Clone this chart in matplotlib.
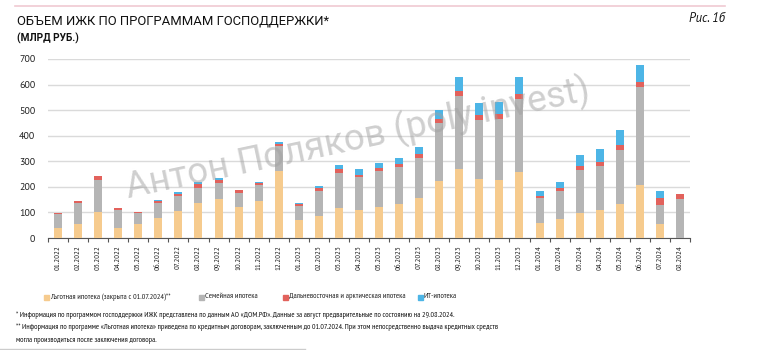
import matplotlib
matplotlib.use("Agg")
import matplotlib.pyplot as plt
from matplotlib.lines import Line2D
from matplotlib.patches import Rectangle
import numpy as np

months = [
    "01.2022", "02.2022", "03.2022", "04.2022", "05.2022", "06.2022", "07.2022", "08.2022",
    "09.2022", "10.2022", "11.2022", "12.2022", "01.2023", "02.2023", "03.2023", "04.2023",
    "05.2023", "06.2023", "07.2023", "08.2023", "09.2023", "10.2023", "11.2023", "12.2023",
    "01.2024", "02.2024", "03.2024", "04.2024", "05.2024", "06.2024", "07.2024", "08.2024",
]
lgotnaya = [39, 54, 100, 39, 54, 78, 107, 136, 153, 121, 145, 262, 69, 86, 116, 108,
            123, 134, 157, 222, 270, 230, 227, 258, 59, 73, 98, 111, 132, 209, 55, 0]
semeynaya = [54, 83, 126, 71, 44, 58, 56, 61, 64, 55, 61, 97, 56, 98, 140, 130,
             139, 143, 156, 228, 286, 233, 240, 284, 98, 111, 168, 170, 211, 382, 74, 154]
dalnevost = [6, 8, 17, 9, 5, 9, 9, 13, 11, 11, 11, 9, 7, 11, 12, 10,
             13, 13, 15, 16, 18, 17, 17, 23, 7, 11, 16, 18, 19, 19, 26, 20]
it_ipoteka = [0, 0, 0, 0, 0, 5, 7, 8, 7, 2, 2, 7, 4, 10, 19, 22,
              20, 23, 26, 34, 54, 46, 49, 63, 20, 23, 44, 51, 60, 66, 29, 0]

series = [
    ("Льготная ипотека (закрыта с 01.07.2024)**", lgotnaya, "#F6CB8E"),
    ("Семейная ипотека", semeynaya, "#B5B5B5"),
    ("Дальневосточная и арктическая ипотека", dalnevost, "#E2625C"),
    ("ИТ-ипотека", it_ipoteka, "#4DB5E6"),
]

NARROW = ["PT Sans Narrow", "DejaVu Sans"]
REGULAR = ["PT Sans", "DejaVu Sans"]
plt.rcParams["font.family"] = NARROW

W, H = 758, 350
fig = plt.figure(figsize=(W / 100, H / 100), dpi=100)
ax = fig.add_axes([48 / W, 1 - 238 / H, (690 - 48) / W, (238 - 59) / H])

x = np.arange(len(months))
bottom = np.zeros(len(months))
for name, values, color in series:
    ax.bar(x, values, width=0.4, bottom=bottom, color=color, label=name, zorder=3)
    bottom += np.array(values)

ax.set_xlim(-0.5, len(months) - 0.5)
ax.set_ylim(0, 700)
ax.set_yticks(range(0, 701, 100))
ax.grid(axis="y", color="#DADADA", linewidth=1.0, zorder=0)
for side in ("top", "right", "left"):
    ax.spines[side].set_visible(False)
ax.spines["bottom"].set_color("#555555")
ax.spines["bottom"].set_linewidth(0.8)
ax.tick_params(axis="y", length=0, pad=9, labelsize=7.2, labelcolor="#222222")
for lbl in ax.get_yticklabels():
    lbl.set_family(REGULAR)
ax.set_xticks(x)
ax.set_xticklabels(months, rotation=90, fontsize=6.1, color="#222222")
ax.tick_params(axis="x", which="major", length=0, pad=5)
ax.set_xticks(np.arange(-0.5, len(months)), minor=True)
ax.tick_params(axis="x", which="minor", length=3, color="#555555", width=0.8)

# watermark
fig.text(358 / W, 1 - 139 / H, "Антон Поляков (poly invest)", fontsize=26.5,
         family=["Roboto", "DejaVu Sans"], color="#A0A0A0", alpha=0.5,
         rotation=12, ha="center", va="center")

# header
fig.add_artist(Line2D([15 / W, 725 / W], [1 - 6 / H] * 2, color="#F0CAD2", linewidth=1.2))
fig.text(17 / W, 1 - 21 / H, "ОБЪЕМ ИЖК ПО ПРОГРАММАМ ГОСПОДДЕРЖКИ*", fontsize=9.4,
         family=["Roboto", "DejaVu Sans"], color="#111111", va="center")
fig.text(17 / W, 1 - 38 / H, "(МЛРД РУБ.)", fontsize=7.3, fontweight="bold",
         family=["Roboto", "DejaVu Sans"], color="#111111", va="center")
fig.text(725 / W, 1 - 18 / H, "Рис. 1б", fontsize=9, style="italic",
         family=REGULAR, color="#111111", ha="right", va="center")

# legend
legend_x = [44, 199, 283, 418]
for (name, values, color), lx in zip(series, legend_x):
    fig.add_artist(Rectangle((lx / W, 1 - 299.5 / H), 5 / W, 5 / H, color=color,
                             transform=fig.transFigure))
    fig.text((lx + 6) / W, 1 - 297 / H, name, fontsize=5.9, color="#222222", va="center")

# footnotes
notes = [
    "* Информация по программом господдержки ИЖК представлена по данным АО «ДОМ.РФ». "
    "Данные за август предварительные по состоянию на 29.08.2024.",
    "** Информация по программе «Льготная ипотека» приведена по кредитным договорам, "
    "заключенным до 01.07.2024. При этом непосредственно выдача кредитных средств",
    "могла производиться после заключения договора.",
]
for i, note in enumerate(notes):
    fig.text(16 / W, 1 - (315 + 12.5 * i) / H, note, fontsize=5.65, style="italic",
             color="#111111", va="center")

fig.add_artist(Line2D([0, 305 / W], [1 - 349 / H] * 2, color="#CCCCCC", linewidth=1))

fig.savefig("out.png", dpi=100)
